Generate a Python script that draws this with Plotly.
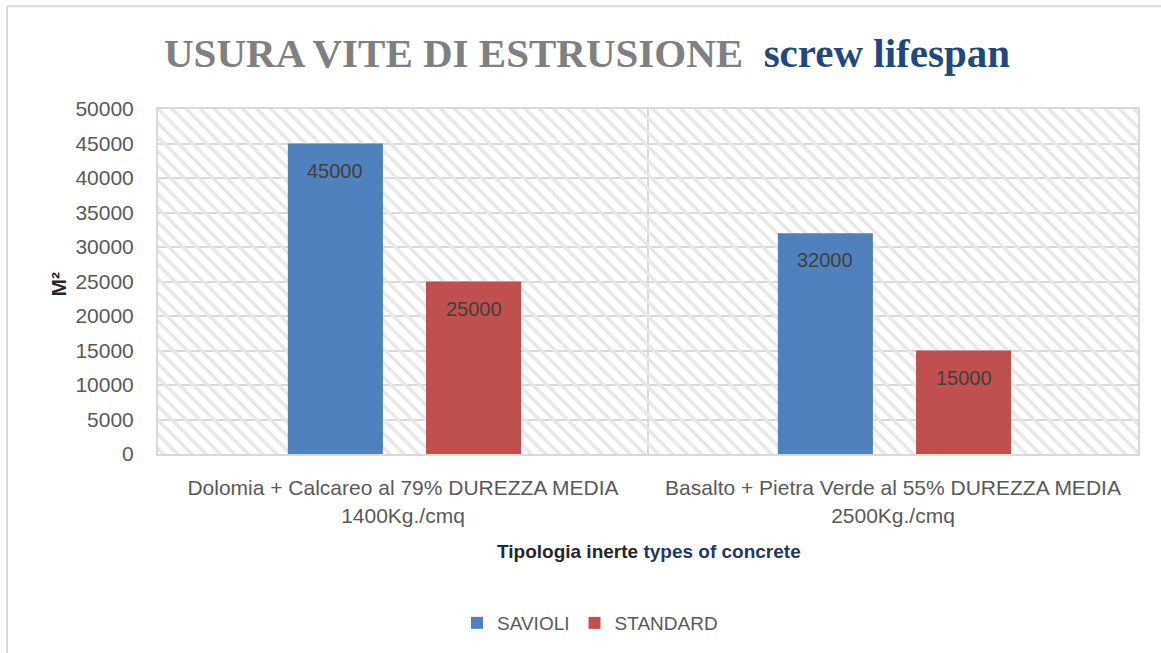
import plotly.graph_objects as go

# ---- data ----
categories = [
    "Dolomia + Calcareo al 79% DUREZZA MEDIA<br>1400Kg./cmq",
    "Basalto + Pietra Verde al 55% DUREZZA MEDIA<br>2500Kg./cmq",
]
savioli = [45000, 32000]
standard = [25000, 15000]
series_names = ["SAVIOLI", "STANDARD"]
y_max = 50000
y_step = 5000

# ---- style ----
W, H = 1161, 653
L, R, T, B = 158, 23, 109, 198
PW, PH = W - L - R, H - T - B
C_SAV = "#4f81bd"
C_STD = "#c0504d"
GRID = "#d9d9d9"
TXT = "#595959"
FONT = "Liberation Sans, Arial, sans-serif"

BAR_W = 0.194
OFFS = [-0.235, 0.047]


def px_x(px):
    return (px - L) / PW


def px_y(py):
    return (H - B - py) / PH


fig = go.Figure()

# hatched plot-area background (one band per category)
fig.add_trace(go.Bar(
    x=categories, y=[y_max] * len(categories),
    width=[1] * len(categories), offset=-0.5,
    marker=dict(color="rgba(0,0,0,0)", line=dict(width=0),
                pattern=dict(shape="\\", size=10, solidity=0.35,
                             fgcolor="#e8e8e8", bgcolor="rgba(0,0,0,0)",
                             fillmode="replace")),
    showlegend=False, hoverinfo="skip",
))

for vals, name, col, off in [(savioli, series_names[0], C_SAV, OFFS[0]),
                             (standard, series_names[1], C_STD, OFFS[1])]:
    fig.add_trace(go.Bar(
        x=categories, y=vals, name=name,
        width=[BAR_W] * len(categories), offset=off,
        marker=dict(color=col, line=dict(width=0)),
    ))
    for i, v in enumerate(vals):
        fig.add_annotation(
            x=i + off + BAR_W / 2, y=v, xref="x", yref="y",
            text=str(v), showarrow=False, yanchor="middle", yshift=-27,
            font=dict(family=FONT, size=20, color="#404040"),
        )

# title
fig.add_annotation(
    x=px_x(587), y=px_y(53), xref="paper", yref="paper",
    text=("<b><span style='color:#808080'>USURA VITE DI ESTRUSIONE</span>"
          "&nbsp;&nbsp;<span style='color:#1f497d'>screw lifespan</span></b>"),
    showarrow=False, xanchor="center", yanchor="middle",
    font=dict(family="Liberation Serif, Times New Roman, serif", size=41),
)

# x-axis title
fig.add_annotation(
    x=px_x(649), y=px_y(553), xref="paper", yref="paper",
    text=("<b><span style='color:#262626'>Tipologia inerte</span> "
          "<span style='color:#1f3864'>types of concrete</span></b>"),
    showarrow=False, xanchor="center", yanchor="middle",
    font=dict(family=FONT, size=19),
)

# y-axis title
fig.add_annotation(
    x=px_x(58), y=px_y(285), xref="paper", yref="paper",
    text="<b>M²</b>", textangle=-90,
    showarrow=False, xanchor="center", yanchor="middle",
    font=dict(family=FONT, size=21, color="#262626"),
)

# chart outer border (left and top, cropped on the other sides)
fig.add_shape(type="line", xref="paper", yref="paper",
              x0=px_x(7), x1=px_x(7), y0=px_y(6), y1=px_y(H + 5),
              line=dict(color=GRID, width=2))
fig.add_shape(type="line", xref="paper", yref="paper",
              x0=px_x(7), x1=px_x(W + 5), y0=px_y(6), y1=px_y(6),
              line=dict(color=GRID, width=2))

fig.update_layout(
    width=W, height=H,
    margin=dict(l=L, r=R, t=T, b=B),
    paper_bgcolor="white", plot_bgcolor="white",
    barmode="overlay",
    font=dict(family=FONT, color=TXT),
    legend=dict(orientation="h", x=px_x(590), xanchor="center",
                y=px_y(623), yanchor="middle",
                font=dict(family=FONT, size=19, color=TXT),
                itemwidth=30, traceorder="normal"),
    xaxis=dict(range=[-0.5, len(categories) - 0.5], tickson="boundaries",
               showgrid=True, gridcolor=GRID, gridwidth=1.5,
               showline=True, linecolor=GRID, linewidth=2, mirror=True,
               ticks="", ticklabelstandoff=14,
               tickfont=dict(family=FONT, size=21, color=TXT),
               fixedrange=True),
    yaxis=dict(range=[0, y_max], dtick=y_step, tick0=0, tickformat="d",
               showgrid=True, gridcolor=GRID, gridwidth=1.5,
               showline=True, linecolor=GRID, linewidth=2, mirror=True,
               ticks="", ticklabelstandoff=18, zeroline=False,
               tickfont=dict(family=FONT, size=21, color=TXT),
               fixedrange=True),
)

fig.write_html(
    "out.html",
    config={"displayModeBar": False},
    post_script="document.body.style.margin='0';",
)
